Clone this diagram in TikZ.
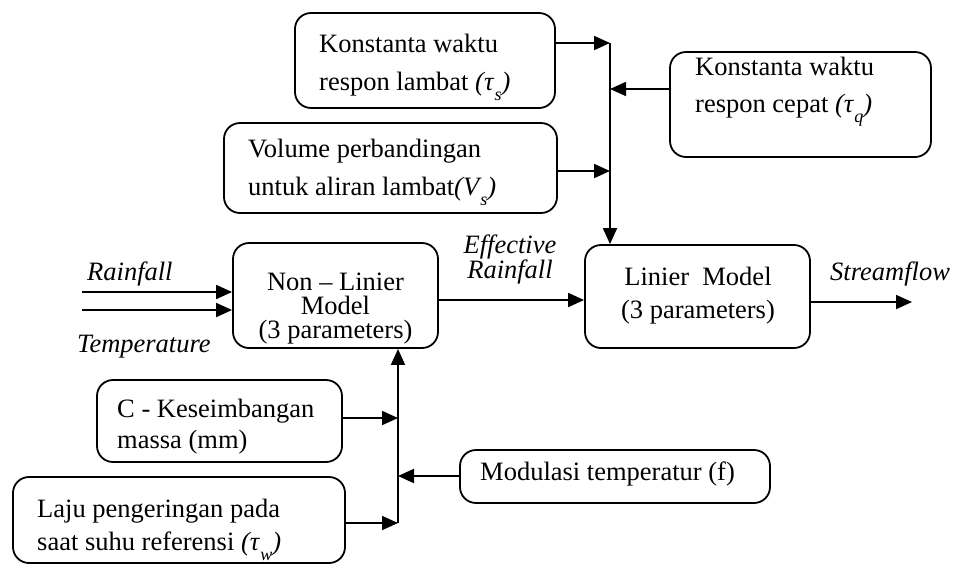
\documentclass[tikz,border=0pt]{standalone}
\usepackage{fontspec}
\setmainfont{Liberation Serif}
\usetikzlibrary{arrows.meta}
% stacked lines: left aligned / centred, baseline on the first line
\newcommand\lnl[1]{\vtop{\halign{##\hfil\cr#1\crcr}}}
\newcommand\lnc[1]{\vtop{\halign{\hfil##\hfil\cr#1\crcr}}}
% parameter symbol with a lowered subscript, in brackets
\newcommand\prm[2]{\textit{(#1\kern1pt\raisebox{-0.38em}{\fontsize{18}{18}\selectfont #2})}}
\begin{document}
\begin{tikzpicture}[x=1pt,y=-1pt,
  font=\fontsize{26.5}{38}\selectfont,
  box/.style={draw, line width=1.8pt, rounded corners=16pt, inner sep=0pt},
  txt/.style={inner sep=0pt, anchor=base west},
  ctxt/.style={inner sep=0pt, anchor=base},
  arr/.style={line width=1.8pt, -{Triangle[length=16pt,width=14pt]}}]
\useasboundingbox (0,0) rectangle (954,566);

% boxes
\node[box, minimum width=260pt, minimum height=95pt]  (b1) at (425,60.5) {};
\node[box, minimum width=333pt, minimum height=90pt]  (b2) at (390.5,168) {};
\node[box, minimum width=261pt, minimum height=105pt] (b3) at (800.5,104.5) {};
\node[box, minimum width=205pt, minimum height=105pt] (nl) at (335.5,295.5) {};
\node[box, minimum width=225pt, minimum height=103pt] (lm) at (697.5,296.5) {};
\node[box, minimum width=245pt, minimum height=82pt]  (cb) at (219.5,421) {};
\node[box, minimum width=332pt, minimum height=86pt]  (lj) at (179,520) {};
\node[box, minimum width=310pt, minimum height=53pt]  (md) at (615,476.5) {};

% texts
\node[txt] (t1) at (319,52) {\lnl{Konstanta waktu\cr respon lambat \prm{τ}{s}}};
\node[txt] (t2) at (248,157) {\lnl{Volume perbandingan\cr untuk aliran lambat\prm{V}{s}}};
\node[txt, font=\fontsize{26.5}{37}\selectfont] (t3) at (695,75) {\lnl{Konstanta waktu\cr respon cepat \prm{τ}{q}}};
\node[ctxt, font=\fontsize{26.5}{24}\selectfont] (tnl) at (335.5,290) {\lnc{Non – Linier\cr Model\cr (3 parameters)}};
\node[ctxt, font=\fontsize{26.5}{33}\selectfont] (tlm) at (698,285) {\lnc{Linier\ \ Model\cr (3 parameters)}};
\node[txt, font=\fontsize{26.5}{31}\selectfont] (tcb) at (117,417) {\lnl{C - Keseimbangan\cr massa (mm)}};
\node[txt, font=\fontsize{26.5}{33}\selectfont] (tlj) at (37,517) {\lnl{Laju pengeringan pada\cr saat suhu referensi \prm{τ}{w}}};
\node[txt] (tmd) at (480,480) {Modulasi temperatur (f)};

\node[txt] (lrf) at (87,280) {\textit{Rainfall}};
\node[txt] (ltp) at (77,352) {\textit{Temperature}};
\node[ctxt, font=\fontsize{26.5}{23}\selectfont\itshape] (lef) at (510,253) {\lnc{Effective\cr Rainfall}};
\node[txt] (lsf) at (830,280) {\textit{Streamflow}};

% junction points and free ends
\coordinate (j1) at (610,43);
\coordinate (j2) at (610,171);
\coordinate (j3) at (610,89);
\coordinate (k1) at (398,418);
\coordinate (k2) at (398,476);
\coordinate (k3) at (398,523);
\coordinate (rf) at (82,292);
\coordinate (tp) at (82,310);
\coordinate (ef) at (510,300);
\coordinate (sf) at (912,302);

% upper parameters into the linear model
\draw[arr] (b1.east |- j1) -- (j1);
\draw[arr] (b2.east |- j2) -- (j2);
\draw[arr] (b3.west |- j3) -- (j3);
\draw[arr] (j1) -- (lm.north -| j1);

% main flow
\draw[arr] (rf) -- (nl.west |- rf);
\draw[arr] (tp) -- (nl.west |- tp);
\draw[arr] (nl.east |- ef) -- (lm.west |- ef);
\draw[arr] (lm.east |- sf) -- (sf);

% lower parameters into the non-linear model
\draw[arr] (cb.east |- k1) -- (k1);
\draw[arr] (md.west |- k2) -- (k2);
\draw[arr] (lj.east |- k3) -- (k3);
\draw[arr] (k3) -- (nl.south -| k3);
\end{tikzpicture}
\end{document}
